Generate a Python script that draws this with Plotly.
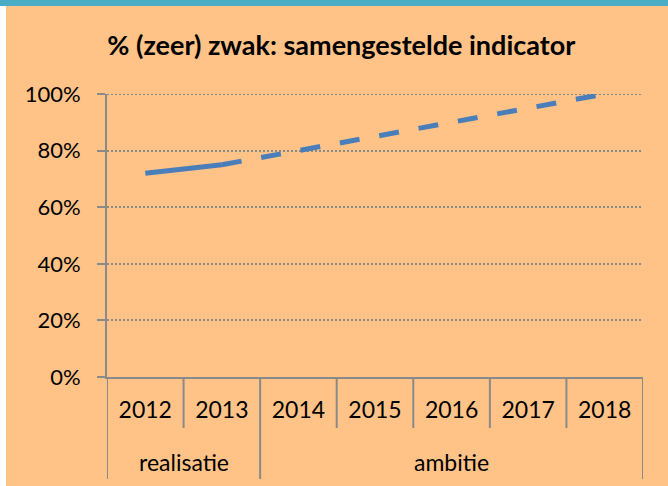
import plotly.graph_objects as go

# ---- data ----
years = ["2012", "2013", "2014", "2015", "2016", "2017", "2018"]
group_names = ["realisatie", "ambitie"]
group_years = [["2012", "2013"], ["2014", "2015", "2016", "2017", "2018"]]
real_years = ["2012", "2013"]
real_values = [0.72, 0.75]
amb_years = ["2013", "2014", "2015", "2016", "2017", "2018"]
amb_values = [0.75, 0.80, 0.85, 0.90, 0.95, 1.00]
y_tickvals = [0, 0.2, 0.4, 0.6, 0.8, 1.0]
title_text = "<b>% (zeer) zwak: samengestelde indicator</b>"

BG = "#FFC388"
TEAL = "#4BACC6"
LINE = "#4A7EBB"
GRAY = "#8A8A8A"
FONT = "Lato"

fig = go.Figure()
fig.add_trace(go.Scatter(x=real_years, y=real_values, mode="lines",
                         line=dict(color=LINE, width=5), showlegend=False,
                         hoverinfo="skip"))
fig.add_trace(go.Scatter(x=amb_years, y=amb_values, mode="lines",
                         line=dict(color=LINE, width=5, dash="20px,20px"),
                         showlegend=False, hoverinfo="skip"))

shapes = []
# top teal strip and left white strip
shapes.append(dict(type="rect", xref="paper", yref="paper", xsizemode="pixel",
                   ysizemode="pixel", xanchor=0, yanchor=1, x0=-120, x1=700,
                   y0=88, y1=100, fillcolor=TEAL, line=dict(width=0), layer="above"))
shapes.append(dict(type="rect", xref="paper", yref="paper", xsizemode="pixel",
                   ysizemode="pixel", xanchor=0, yanchor=1, x0=-120, x1=-101,
                   y0=-500, y1=88, fillcolor="white", line=dict(width=0), layer="above"))
# dotted gridline at the top of the range (plotly omits it at the edge)
shapes.append(dict(type="line", xref="paper", yref="y", x0=0, x1=1,
                   y0=max(y_tickvals), y1=max(y_tickvals),
                   line=dict(color=GRAY, width=2, dash="2px,2px"), layer="below"))

# category dividers (year level and group level)
idx = {y: i for i, y in enumerate(years)}
group_bounds = set()
for gy in group_years:
    group_bounds.add(idx[gy[0]] - 0.5)
    group_bounds.add(idx[gy[-1]] + 0.5)
for i in range(len(years) + 1):
    b = i - 0.5
    depth = -102 if b in group_bounds else -51
    shapes.append(dict(type="line", xref="x", yref="paper", ysizemode="pixel",
                       yanchor=0, x0=b, x1=b, y0=0, y1=depth,
                       line=dict(color=GRAY, width=2), layer="above"))

annotations = []
for name, gy in zip(group_names, group_years):
    center = sum(idx[y] for y in gy) / len(gy)
    annotations.append(dict(text=name, x=center, xref="x", y=0, yref="paper",
                            yanchor="middle", yshift=-85, showarrow=False,
                            font=dict(family=FONT, size=23, color="black")))

fig.update_layout(
    width=668, height=486,
    paper_bgcolor=BG, plot_bgcolor=BG,
    margin=dict(l=107, r=25, t=94, b=109, autoexpand=False),
    title=dict(text=title_text, xref="container", x=0.511, xanchor="center",
               yref="container", y=1 - 46 / 486, yanchor="middle",
               font=dict(family=FONT, size=27, color="black")),
    shapes=shapes,
    annotations=annotations,
    showlegend=False,
)
fig.update_xaxes(type="category", categoryorder="array", categoryarray=years,
                 range=[-0.5, len(years) - 0.5], showgrid=False,
                 showline=True, linecolor=GRAY, linewidth=2, ticks="",
                 tickfont=dict(family=FONT, size=23, color="black"),
                 ticklabelstandoff=11, zeroline=False, fixedrange=True,
                 automargin=False)
fig.update_yaxes(range=[0, 1], tickvals=y_tickvals, tickformat=".0%",
                 showgrid=True, gridcolor=GRAY, gridwidth=2, griddash="2px,2px",
                 showline=True, linecolor=GRAY, linewidth=2,
                 ticks="outside", ticklen=8, tickwidth=2, tickcolor=GRAY,
                 tickfont=dict(family=FONT, size=22, color="black"),
                 ticklabelstandoff=12, zeroline=False, fixedrange=True,
                 automargin=False)

fig.write_html("out.html", config={"displayModeBar": False},
               post_script="document.body.style.margin='0';document.body.style.overflow='hidden';")
